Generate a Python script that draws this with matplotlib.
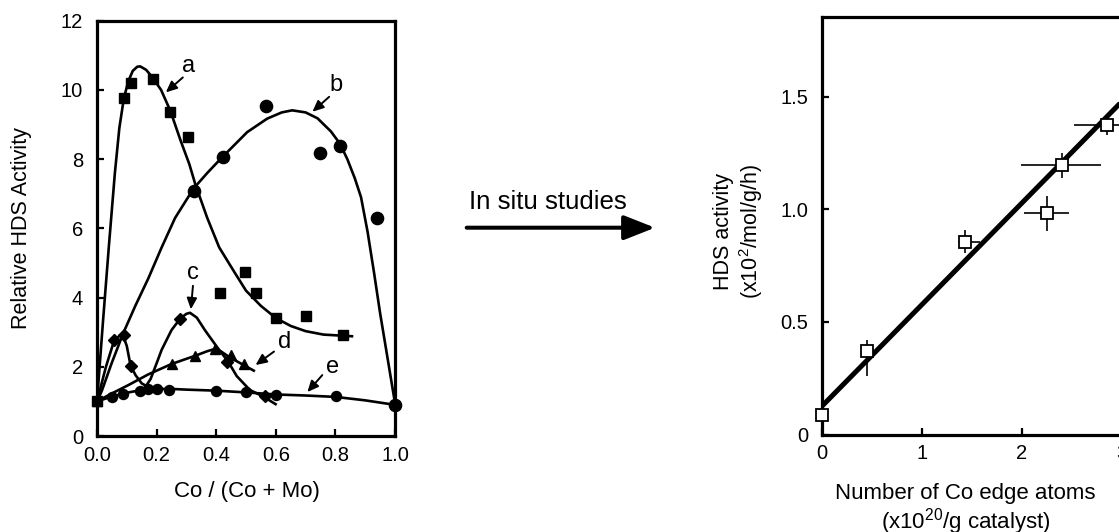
import matplotlib
matplotlib.use('Agg')
import matplotlib.pyplot as plt
from matplotlib.patches import FancyArrowPatch

plt.rcParams['font.family'] = ['Liberation Sans', 'DejaVu Sans']
plt.rcParams['mathtext.fontset'] = 'custom'
plt.rcParams['mathtext.rm'] = 'Liberation Sans'
plt.rcParams['mathtext.it'] = 'Liberation Sans:italic'

# ---------------- left panel data ----------------
a_x = [0.0, 0.091, 0.115, 0.187, 0.246, 0.305, 0.414, 0.498, 0.535, 0.599, 0.703, 0.824]
a_y = [1.0, 9.76, 10.2, 10.32, 9.37, 8.65, 4.12, 4.73, 4.12, 3.40, 3.46, 2.93]
b_x = [0.324, 0.423, 0.568, 0.749, 0.816, 0.939, 1.0]
b_y = [7.09, 8.05, 9.54, 8.17, 8.39, 6.29, 0.90]
c_x = [0.058, 0.090, 0.113, 0.280, 0.437, 0.564]
c_y = [2.77, 2.92, 2.02, 3.39, 2.13, 1.16]
d_x = [0.0, 0.25, 0.33, 0.396, 0.448, 0.493]
d_y = [1.0, 2.08, 2.30, 2.52, 2.35, 2.07]
e_x = [0.049, 0.088, 0.144, 0.172, 0.200, 0.240, 0.400, 0.500, 0.600, 0.801]
e_y = [1.12, 1.20, 1.30, 1.36, 1.36, 1.34, 1.30, 1.26, 1.18, 1.15]

# hand-drawn guide curves
ca_x = [0.0, 0.02, 0.04, 0.06, 0.075, 0.09, 0.105, 0.12, 0.135, 0.145, 0.165, 0.187, 0.215,
        0.246, 0.28, 0.31, 0.33, 0.37, 0.41, 0.46, 0.50, 0.55, 0.60, 0.65, 0.70, 0.76, 0.86]
ca_y = [1.0, 3.3, 5.5, 7.6, 8.9, 9.75, 10.25, 10.55, 10.67, 10.68, 10.58, 10.35, 10.0,
        9.4, 8.55, 7.85, 7.27, 6.3, 5.45, 4.75, 4.2, 3.76, 3.41, 3.18, 3.03, 2.93, 2.88]
cb_x = [0.0, 0.016, 0.049, 0.088, 0.128, 0.172, 0.217, 0.262, 0.324, 0.37, 0.414, 0.46, 0.504,
        0.571, 0.62, 0.655, 0.70, 0.74, 0.785, 0.815, 0.84, 0.865, 0.886, 0.908, 0.93, 0.95,
        0.975, 1.0]
cb_y = [1.0, 1.3, 2.1, 2.97, 3.75, 4.55, 5.45, 6.3, 7.15, 7.6, 8.0, 8.4, 8.78,
        9.17, 9.35, 9.41, 9.35, 9.18, 8.8, 8.45, 8.0, 7.45, 6.9, 5.9, 4.7, 3.55, 2.25, 0.95]
cc_x = [0.0, 0.03, 0.058, 0.085, 0.10, 0.113, 0.13, 0.15, 0.165, 0.18, 0.20, 0.217, 0.25,
        0.28, 0.30, 0.312, 0.335, 0.362, 0.402, 0.44, 0.469, 0.513, 0.558, 0.603]
cc_y = [1.0, 2.0, 2.77, 2.96, 2.6, 2.02, 1.75, 1.52, 1.45, 1.65, 2.1, 2.49, 3.06,
        3.40, 3.53, 3.56, 3.42, 3.06, 2.58, 2.15, 1.73, 1.33, 1.14, 0.9]
cd_x = [0.0, 0.05, 0.105, 0.172, 0.25, 0.33, 0.37, 0.39, 0.415, 0.446, 0.49, 0.53]
cd_y = [1.0, 1.23, 1.47, 1.78, 2.08, 2.32, 2.45, 2.5, 2.45, 2.27, 2.06, 1.87]
ce_x = [0.0, 0.05, 0.10, 0.15, 0.20, 0.25, 0.30, 0.40, 0.50, 0.60, 0.70, 0.80, 0.90, 1.0]
ce_y = [1.0, 1.14, 1.25, 1.33, 1.36, 1.36, 1.34, 1.31, 1.26, 1.20, 1.17, 1.13, 1.03, 0.90]

curve_labels = ['a', 'b', 'c', 'd', 'e']
label_pos = [(0.308, 10.68), (0.801, 10.15), (0.322, 4.70), (0.631, 2.73), (0.79, 2.0)]
arrow_tail = [(0.288, 10.36), (0.779, 9.80), (0.322, 4.34), (0.594, 2.44), (0.756, 1.76)]
arrow_head = [(0.231, 9.93), (0.723, 9.37), (0.315, 3.66), (0.532, 2.05), (0.706, 1.27)]

left_xticks = [0.0, 0.2, 0.4, 0.6, 0.8, 1.0]
left_xticklabels = ['0.0', '0.2', '0.4', '0.6', '0.8', '1.0']
left_yticks = [0, 2, 4, 6, 8, 10, 12]
left_yticklabels = ['0', '2', '4', '6', '8', '10', '12']

# ---------------- right panel data ----------------
r_x = [0.0, 0.45, 1.427, 2.25, 2.403, 2.853]
r_y = [0.088, 0.371, 0.856, 0.984, 1.196, 1.374]
r_xerr_lo = [0.0, 0.0, 0.067, 0.23, 0.41, 0.333]
r_xerr_hi = [0.0, 0.0, 0.15, 0.217, 0.39, 0.333]
r_yerr_lo = [0.0, 0.113, 0.049, 0.079, 0.056, 0.045]
r_yerr_hi = [0.0, 0.049, 0.05, 0.076, 0.054, 0.046]
fit_x = [0.0, 3.6]
fit_y = [0.126, 1.75]
right_xticks = [0, 1, 2, 3]
right_xticklabels = ['0', '1', '2', '3']
right_yticks = [0, 0.5, 1.0, 1.5]
right_yticklabels = ['0', '0.5', '1.0', '1.5']

# ---------------- figure ----------------
W, H = 1119, 532
fig = plt.figure(figsize=(W / 100, H / 100), dpi=100)
TICK_FS = 14.5


def fx(px):
    return px / W


def fy(py):
    return 1 - py / H


def style_axes(ax):
    for s in ax.spines.values():
        s.set_linewidth(2.3)
    ax.tick_params(direction='in', length=5, width=1.6, labelsize=TICK_FS,
                   top=False, right=False)
    ax.tick_params(axis='x', pad=7)
    ax.tick_params(axis='y', pad=10)


# left axes
ax1 = fig.add_axes([fx(97), fy(436), (395 - 97) / W, (436 - 20.7) / H])
ax1.set_xlim(0, 1.0)
ax1.set_ylim(0, 12)
ax1.set_xticks(left_xticks)
ax1.set_xticklabels(left_xticklabels, fontsize=TICK_FS)
ax1.set_yticks(left_yticks)
ax1.set_yticklabels(left_yticklabels, fontsize=TICK_FS)
style_axes(ax1)

lw = 1.9
for cx, cy in [(ca_x, ca_y), (cb_x, cb_y), (cc_x, cc_y), (cd_x, cd_y), (ce_x, ce_y)]:
    ax1.plot(cx, cy, color='black', lw=lw, solid_joinstyle='round', solid_capstyle='butt',
             zorder=2, clip_on=False)

ax1.plot(a_x, a_y, 's', color='black', ms=6.8, zorder=3, clip_on=False)
ax1.plot(b_x, b_y, 'o', color='black', ms=8.8, zorder=3, clip_on=False)
ax1.plot(c_x, c_y, 'D', color='black', ms=6.2, zorder=3, clip_on=False)
ax1.plot(d_x, d_y, '^', color='black', ms=7.5, zorder=3, clip_on=False)
ax1.plot(e_x, e_y, 'o', color='black', ms=7.2, zorder=3, clip_on=False)

for lab, tp, tt, th in zip(curve_labels, label_pos, arrow_tail, arrow_head):
    ax1.text(tp[0], tp[1], lab, fontsize=17, ha='center', va='center')
    ax1.annotate('', xy=th, xytext=tt,
                 arrowprops=dict(arrowstyle='-|>,head_length=0.55,head_width=0.25',
                                 color='black', lw=1.4, mutation_scale=12,
                                 shrinkA=0, shrinkB=0))

fig.text(fx(247), fy(491.7), 'Co / (Co + Mo)', fontsize=16, ha='center', va='center')
fig.text(fx(21.4), fy(228), 'Relative HDS Activity', fontsize=15.5, ha='center', va='center',
         rotation=90)

# middle arrow + text
arr = FancyArrowPatch((fx(466.7), fy(227.7)), (fx(655), fy(227.7)), transform=fig.transFigure,
                      arrowstyle='-|>,head_length=1.9,head_width=0.75', mutation_scale=10,
                      lw=2.9, color='black', shrinkA=0, shrinkB=0)
fig.add_artist(arr)
fig.text(fx(469), fy(209), 'In situ studies', fontsize=18.6, ha='left', va='baseline')

# right axes (extends past the right edge of the figure)
ax2 = fig.add_axes([fx(822), fy(434.5), 400 / W, (434.5 - 16.7) / H])
ax2.set_xlim(0, 4)
ax2.set_ylim(0, 1.855)
ax2.set_xticks(right_xticks)
ax2.set_xticklabels(right_xticklabels, fontsize=TICK_FS)
ax2.set_yticks(right_yticks)
ax2.set_yticklabels(right_yticklabels, fontsize=TICK_FS)
style_axes(ax2)

ax2.errorbar(r_x, r_y, xerr=[r_xerr_lo, r_xerr_hi], yerr=[r_yerr_lo, r_yerr_hi],
             fmt='none', ecolor='black', elinewidth=1.2, capsize=0, zorder=2)
ax2.plot(fit_x, fit_y, color='black', lw=3.6, solid_capstyle='butt', zorder=3)
ax2.plot(r_x, r_y, 's', mfc='white', mec='black', mew=1.3, ms=8.2, zorder=4, clip_on=False)

fig.text(fx(965.7), fy(510), 'Number of Co edge atoms\n(x10$^{20}$/g catalyst)', fontsize=16,
         ha='center', va='center', linespacing=1.12)
fig.text(fx(739), fy(231), 'HDS activity\n(x10$^{2}$/mol/g/h)', fontsize=15.5,
         ha='center', va='center', rotation=90, linespacing=1.12)

fig.savefig('out.png', dpi=100)
